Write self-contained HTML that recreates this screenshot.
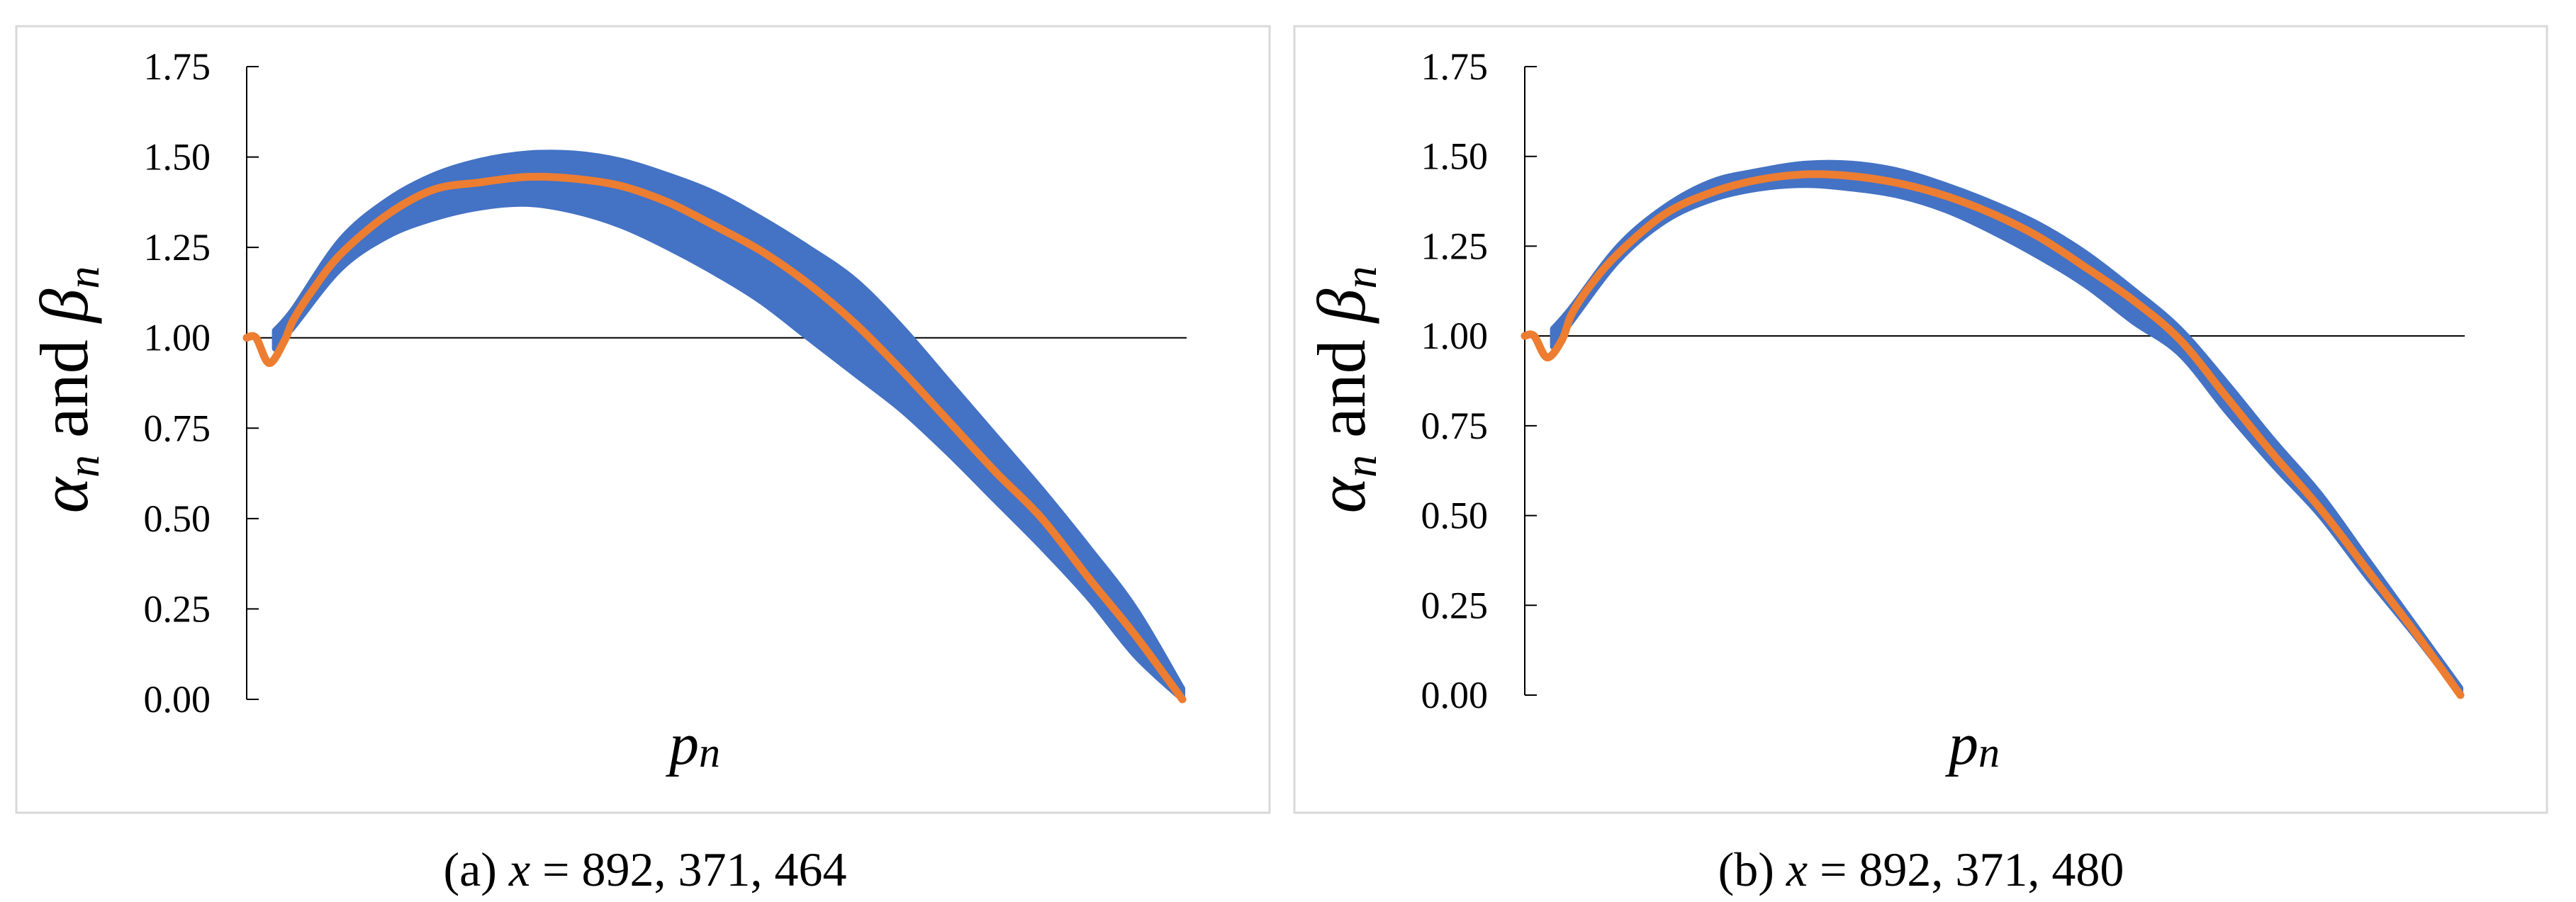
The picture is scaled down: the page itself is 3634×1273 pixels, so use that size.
<!DOCTYPE html>
<html><head><meta charset="utf-8"><style>
html,body{margin:0;padding:0;background:#fff;}
svg{display:block;font-family:"Liberation Serif",serif;}
</style></head><body>
<svg id="fig" width="3634" height="1273" viewBox="0 0 3634 1273" xmlns="http://www.w3.org/2000/svg"></svg>
<script>
// ---- data (normalized p_n position 0..1) ----
const tPos = [0,0.01,0.024,0.04,0.05,0.07,0.1,0.15,0.2,0.25,0.3,0.35,0.4,0.45,0.5,0.55,0.6,0.65,0.7,0.75,0.8,0.85,0.9,0.95,1.0];
const fitA = [1.0,1.0,0.93,0.99,1.05,1.13,1.23,1.34,1.41,1.43,1.445,1.44,1.42,1.375,1.31,1.24,1.15,1.04,0.91,0.77,0.63,0.50,0.335,0.176,0.0];
const fitB = [1.0,1.0,0.94,0.99,1.06,1.14,1.23,1.34,1.40,1.435,1.45,1.445,1.425,1.39,1.34,1.275,1.19,1.10,0.99,0.83,0.67,0.52,0.35,0.18,0.0];
const bandT = [0.03,0.05,0.1,0.15,0.2,0.25,0.3,0.35,0.4,0.45,0.5,0.55,0.6,0.65,0.7,0.75,0.8,0.85,0.9,0.95,1.0];
const lowA  = [0.97,1.03,1.19,1.28,1.33,1.36,1.37,1.35,1.31,1.25,1.18,1.10,1.00,0.90,0.80,0.68,0.55,0.42,0.28,0.12,0.0];
const highA = [1.02,1.08,1.27,1.38,1.45,1.49,1.51,1.51,1.49,1.45,1.40,1.33,1.25,1.16,1.03,0.88,0.73,0.58,0.42,0.25,0.03];
const lowB  = [0.97,1.04,1.21,1.32,1.38,1.41,1.42,1.41,1.39,1.35,1.29,1.22,1.14,1.04,0.95,0.79,0.64,0.50,0.33,0.17,0.0];
const highB = [1.02,1.08,1.25,1.36,1.43,1.46,1.48,1.48,1.46,1.42,1.37,1.31,1.23,1.13,1.02,0.87,0.71,0.56,0.38,0.20,0.02];
const yTicks = [0,0.25,0.5,0.75,1.0,1.25,1.5,1.75];
const yTickLabels = ["0.00","0.25","0.50","0.75","1.00","1.25","1.50","1.75"];
const captions = ["(a)  ","(b)  "];
const captionNums = ["892, 371, 464","892, 371, 480"];

const NS="http://www.w3.org/2000/svg";
const svg=document.getElementById('fig');
function mk(tag,attrs,parent){const e=document.createElementNS(NS,tag);for(const k in attrs)e.setAttribute(k,attrs[k]);(parent||svg).appendChild(e);return e;}
function smooth(pts,move){
  let d=(move?'M':'L')+pts[0][0]+','+pts[0][1];
  for(let i=0;i<pts.length-1;i++){
    const p0=pts[Math.max(0,i-1)],p1=pts[i],p2=pts[i+1],p3=pts[Math.min(pts.length-1,i+2)];
    const c1x=p1[0]+(p2[0]-p0[0])/6,c1y=p1[1]+(p2[1]-p0[1])/6;
    const c2x=p2[0]-(p3[0]-p1[0])/6,c2y=p2[1]-(p3[1]-p1[1])/6;
    d+=` C${c1x},${c1y} ${c2x},${c2y} ${p2[0]},${p2[1]}`;
  }
  return d;
}

const panels=[
 {id:'a',fx:23,fy:37,fw:1768,fh:1110,ax:348,x0:348,x1:1668,xEnd:1674,y0:987,y175:94,lblX:297,titleX:111,pX:980,capX:910,fit:fitA,lo:lowA,hi:highA},
 {id:'b',fx:1826,fy:37,fw:1767,fh:1110,ax:2151,x0:2151,x1:3471,xEnd:3477,y0:981,y175:94,lblX:2099,titleX:1913,pX:2785,capX:2710,fit:fitB,lo:lowB,hi:highB}
];

panels.forEach((P,i)=>{
  const g=mk('g',{});
  
  
  const sx=t=>P.x0+t*(P.x1-P.x0);
  const sy=v=>P.y0-(v/1.75)*(P.y0-P.y175);
  const fr=mk('rect',{x:P.fx,y:P.fy,width:P.fw,height:P.fh,fill:'#fff',stroke:'#d9d9d9','stroke-width':3},g);
  
  
  const rl=mk('line',{x1:P.ax,y1:sy(1),x2:P.xEnd,y2:sy(1),stroke:'#000','stroke-width':2},g);
  
  
  const ya=mk('line',{x1:P.ax,y1:P.y175,x2:P.ax,y2:P.y0,stroke:'#000','stroke-width':2},g);
  
  
  yTicks.forEach((v,k)=>{
    const tk=mk('line',{x1:P.ax,y1:sy(v),x2:P.ax+17,y2:sy(v),stroke:'#000','stroke-width':2},g);
    
    
    const tl=mk('text',{x:P.lblX,y:sy(v)+18,'text-anchor':'end','font-size':54,fill:'#000'},g);
    tl.textContent=yTickLabels[k];
    
    
  });
  const hiPts=bandT.map((t,k)=>[sx(t),sy(P.hi[k])]);
  const loPts=bandT.map((t,k)=>[sx(t),sy(P.lo[k])]).reverse();
  const d=smooth(hiPts,true)+' '+smooth(loPts,false)+' Z';
  const band=mk('path',{d:d,fill:'#4472C4',stroke:'#4472C4','stroke-width':8,'stroke-linejoin':'round'},g);
  
  
  const fd=smooth(tPos.map((t,k)=>[sx(t),sy(P.fit[k])]),true);
  const fl=mk('path',{d:fd,fill:'none',stroke:'#ED7D31','stroke-width':11,'stroke-linejoin':'round','stroke-linecap':'round'},g);
  
  
  const cy=550;
  const yt=mk('text',{x:P.titleX+12,y:cy,transform:`rotate(-90 ${P.titleX+12} ${cy})`,'text-anchor':'middle','font-size':96,fill:'#000'},g);
  yt.innerHTML='<tspan font-style="italic">α</tspan><tspan font-style="italic" font-size="64" dy="16">n</tspan><tspan dy="-16">  and  </tspan><tspan font-style="italic">β</tspan><tspan font-style="italic" font-size="64" dy="16">n</tspan>';
  
  
  const xt=mk('text',{x:P.pX,y:1078,'text-anchor':'middle','font-size':84,'font-style':'italic',fill:'#000'},g);
  xt.innerHTML='p<tspan font-size="60" dy="4">n</tspan>';
  
  
  const cp=mk('text',{x:P.capX,y:1250,'text-anchor':'middle','font-size':68,fill:'#000'},g);
  cp.innerHTML=captions[i]+'<tspan font-style="italic">x</tspan> = '+captionNums[i];
  
  
});
</script>
</body></html>
